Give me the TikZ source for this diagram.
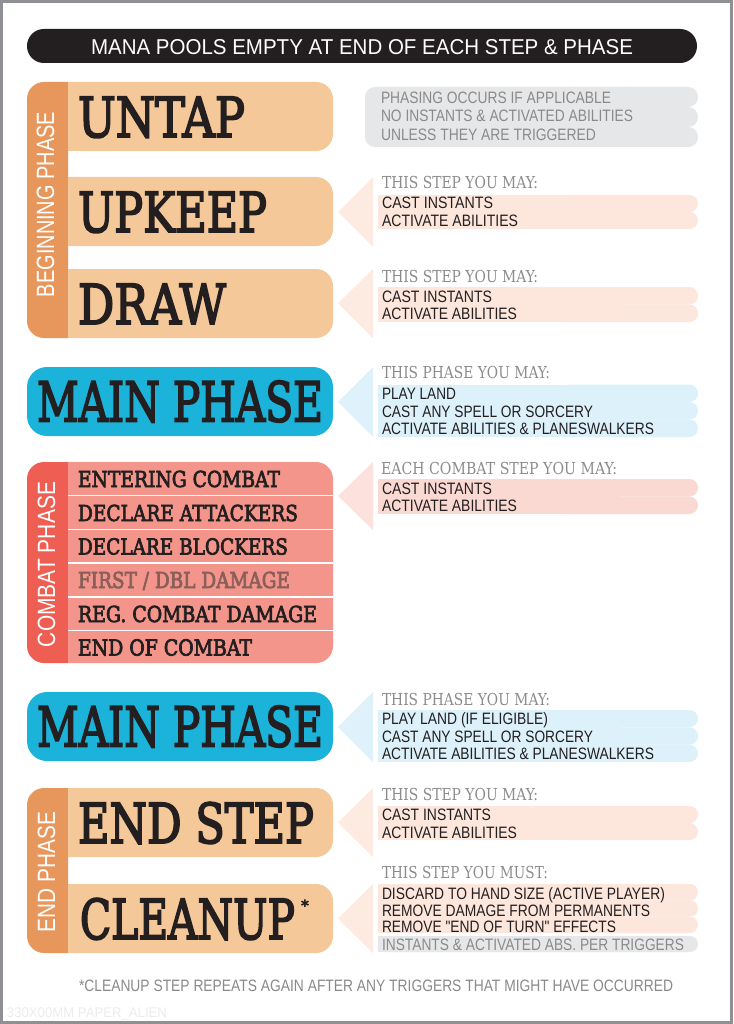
\documentclass[tikz,border=0pt]{standalone}
\usepackage{fontspec}
\usepackage{graphicx}
\setmainfont{Liberation Sans}
\newfontfamily\slabf{DejaVu Serif}
\newfontfamily\slabt[FakeBold=3.5]{DejaVu Serif}
\newfontfamily\sansf{Liberation Sans}
\newcommand{\fw}[3]{\resizebox{#1pt}{\height}{\fontsize{#2pt}{#2pt}\selectfont #3}}
\definecolor{ink}{HTML}{231F20}
\definecolor{taborange}{HTML}{E8975C}
\definecolor{boxorange}{HTML}{F4C898}
\definecolor{tabred}{HTML}{EE5E52}
\definecolor{boxred}{HTML}{F4958B}
\definecolor{mainblue}{HTML}{1BB3D9}
\definecolor{graypanel}{HTML}{E6E7E8}
\definecolor{peachpanel}{HTML}{FDE6DC}
\definecolor{peachtri}{HTML}{FDEBE2}
\definecolor{bluepanel}{HTML}{DDF1FB}
\definecolor{bluetri}{HTML}{DFF2FB}
\definecolor{combatpanel}{HTML}{FBD9D3}
\definecolor{combattri}{HTML}{FCE1DC}
\definecolor{notegray}{HTML}{8A8A8A}
\definecolor{hdrgray}{HTML}{8C8C8C}
\definecolor{mutedred}{HTML}{8A5E5A}
\definecolor{bordergray}{HTML}{8E9094}
\definecolor{wmgray}{HTML}{ECECEC}
\begin{document}
\begin{tikzpicture}[x=1pt,y=-1pt,
  txt/.style={inner sep=0pt, outer sep=0pt, anchor=base west},
  title/.style={txt, text=ink, font=\slabt},
  lineitem/.style={txt, text=ink, font=\sansf},
  grayitem/.style={txt, text=notegray, font=\sansf},
  hdr/.style={txt, text=hdrgray, font=\slabf},
  verttext/.style={txt, text=white, rotate=90, font=\sansf}]
\useasboundingbox (0,0) rectangle (733,1024);
\fill[white] (0,0) rectangle (733,1024);
\draw[line width=3pt, bordergray] (1.5,1.5) rectangle (731.5,1022.5);

% banner
\fill[ink, rounded corners=16.9] (27,29) rectangle (697,63);
\node[txt, text=white, font=\sansf] (banner) at (91,55) {\fw{542}{21.5}{MANA POOLS EMPTY AT END OF EACH STEP \& PHASE}};

% ---------- beginning phase ----------
\begin{scope}
  \clip (27,82) rectangle (68,338);
  \fill[taborange, rounded corners=17] (27,82) rectangle (110,338);
\end{scope}
\begin{scope}
  \clip (68,0) rectangle (333,1000);
  \fill[boxorange, rounded corners=17] (40,82) rectangle (333,151);
  \fill[boxorange, rounded corners=17] (40,177) rectangle (333,246);
  \fill[boxorange, rounded corners=17] (40,269) rectangle (333,338);
\end{scope}
\node[verttext] (begtab) at (54,297) {\fw{185}{25}{BEGINNING PHASE}};
\node[title] (untap) at (78,137) {\fw{167}{55}{UNTAP}};
\node[title] (upkeep) at (78,232) {\fw{189}{55}{UPKEEP}};
\node[title] (draw) at (78,324) {\fw{148}{55}{DRAW}};

% untap info
\fill[graypanel, rounded corners=10] (365,87) rectangle (640,147);
\foreach \a/\b in {87/107,107/127,127/147}
  \fill[graypanel, rounded corners=9.9] (560,\a) rectangle (698,\b);
\node[grayitem] (u1) at (381,103.5) {\fw{230}{16.5}{PHASING OCCURS IF APPLICABLE}};
\node[grayitem] (u2) at (381,122) {\fw{252}{16.5}{NO INSTANTS \& ACTIVATED ABILITIES}};
\node[grayitem] (u3) at (381,141) {\fw{215}{16.5}{UNLESS THEY ARE TRIGGERED}};

% upkeep info
\fill[peachtri] (373,177) -- (338,212) -- (373,247) -- cycle;
\fill[peachpanel] (378,195) rectangle (620,229);
\foreach \a/\b in {195/212,212/229}
  \fill[peachpanel, rounded corners=8.4] (560,\a) rectangle (698,\b);
\node[hdr] (k0) at (382,189) {\fw{156}{16.5}{THIS STEP YOU MAY:}};
\node[lineitem] (k1) at (382,209) {\fw{111}{16.5}{CAST INSTANTS}};
\node[lineitem] (k2) at (382,227) {\fw{136}{16.5}{ACTIVATE ABILITIES}};

% draw info
\fill[peachtri] (373,269) -- (338,303.5) -- (373,338) -- cycle;
\fill[peachpanel] (378,287) rectangle (620,322);
\foreach \a/\b in {287/304.5,304.5/322}
  \fill[peachpanel, rounded corners=8.6] (560,\a) rectangle (698,\b);
\node[hdr] (d0) at (382,282) {\fw{156}{16.5}{THIS STEP YOU MAY:}};
\node[lineitem] (d1) at (382,302) {\fw{110}{16.5}{CAST INSTANTS}};
\node[lineitem] (d2) at (382,319) {\fw{135}{16.5}{ACTIVATE ABILITIES}};

% ---------- main phase 1 ----------
\fill[mainblue, rounded corners=20] (27,367) rectangle (333,436);
\node[title] (main1) at (37,421.5) {\fw{286}{55}{MAIN PHASE}};
\fill[bluetri] (373,367) -- (338,402) -- (373,437) -- cycle;
\fill[bluepanel] (378,384.5) rectangle (620,437);
\foreach \a/\b in {384.5/402,402/419.5,419.5/437}
  \fill[bluepanel, rounded corners=8.6] (560,\a) rectangle (698,\b);
\node[hdr] (m0) at (382,378.5) {\fw{168}{16.5}{THIS PHASE YOU MAY:}};
\node[lineitem] (m1) at (382,399) {\fw{74}{16.5}{PLAY LAND}};
\node[lineitem] (m2) at (382,417) {\fw{211}{16.5}{CAST ANY SPELL OR SORCERY}};
\node[lineitem] (m3) at (382,434) {\fw{272}{16.5}{ACTIVATE ABILITIES \& PLANESWALKERS}};

% ---------- combat phase ----------
\begin{scope}
  \clip (27,462) rectangle (68,663);
  \fill[tabred, rounded corners=17] (27,462) rectangle (110,663);
\end{scope}
\begin{scope}
  \clip (68,0) rectangle (333,1000);
  \fill[boxred, rounded corners=17] (40,462) rectangle (333,663);
\end{scope}
\foreach \yy in {495.5,529.5,563,597,630.5}
  \draw[white, line width=1.6pt] (68,\yy) -- (333,\yy);
\node[verttext] (combattab) at (55,647) {\fw{165}{25}{COMBAT PHASE}};
\node[title] (c1) at (78,487) {\fw{202}{22}{ENTERING COMBAT}};
\node[title] (c2) at (78,521) {\fw{220}{22}{DECLARE ATTACKERS}};
\node[title] (c3) at (78,554.5) {\fw{210}{22}{DECLARE BLOCKERS}};
\node[title, text=mutedred] (c4) at (78,588) {\fw{212}{22}{FIRST / DBL DAMAGE}};
\node[title] (c5) at (78,622) {\fw{239}{22}{REG. COMBAT DAMAGE}};
\node[title] (c6) at (78,655.5) {\fw{174}{22}{END OF COMBAT}};

\fill[combattri] (373,462) -- (338,496) -- (373,530) -- cycle;
\fill[combatpanel] (378,479) rectangle (620,514);
\foreach \a/\b in {479/496.5,496.5/514}
  \fill[combatpanel, rounded corners=8.6] (560,\a) rectangle (698,\b);
\node[hdr] (cb0) at (381,474) {\fw{236}{16.5}{EACH COMBAT STEP YOU MAY:}};
\node[lineitem] (cb1) at (382,494) {\fw{110}{16.5}{CAST INSTANTS}};
\node[lineitem] (cb2) at (382,511) {\fw{135}{16.5}{ACTIVATE ABILITIES}};

% ---------- main phase 2 ----------
\fill[mainblue, rounded corners=20] (27,692) rectangle (333,761);
\node[title] (main2) at (37,746.5) {\fw{286}{55}{MAIN PHASE}};
\fill[bluetri] (373,692) -- (338,727) -- (373,762) -- cycle;
\fill[bluepanel] (378,710) rectangle (620,762);
\foreach \a/\b in {710/727.3,727.3/744.7,744.7/762}
  \fill[bluepanel, rounded corners=8.6] (560,\a) rectangle (698,\b);
\node[hdr] (n0) at (382,705) {\fw{168}{16.5}{THIS PHASE YOU MAY:}};
\node[lineitem] (n1) at (382,724.5) {\fw{166}{16.5}{PLAY LAND (IF ELIGIBLE)}};
\node[lineitem] (n2) at (382,742) {\fw{211}{16.5}{CAST ANY SPELL OR SORCERY}};
\node[lineitem] (n3) at (382,759) {\fw{272}{16.5}{ACTIVATE ABILITIES \& PLANESWALKERS}};

% ---------- end phase ----------
\begin{scope}
  \clip (27,788) rectangle (68,953);
  \fill[taborange, rounded corners=17] (27,788) rectangle (110,953);
\end{scope}
\begin{scope}
  \clip (68,0) rectangle (333,1000);
  \fill[boxorange, rounded corners=17] (40,788) rectangle (333,857);
  \fill[boxorange, rounded corners=17] (40,884) rectangle (333,953);
\end{scope}
\node[verttext] (endtab) at (55,932) {\fw{120}{25}{END PHASE}};
\node[title] (endstep) at (78,843) {\fw{236}{55}{END STEP}};
\node[title] (cleanup) at (80,939) {\fw{215}{55}{CLEANUP}};
\node[inner sep=0pt, anchor=north west, text=ink, font=\slabt\fontsize{15pt}{15pt}\selectfont] (ast) at (301,899.5) {*};

\fill[peachtri] (373,788) -- (338,822.5) -- (373,857) -- cycle;
\fill[peachpanel] (378,806) rectangle (620,840);
\foreach \a/\b in {806/823,823/840}
  \fill[peachpanel, rounded corners=8.4] (560,\a) rectangle (698,\b);
\node[hdr] (e0) at (382,800.5) {\fw{156}{16.5}{THIS STEP YOU MAY:}};
\node[lineitem] (e1) at (382,820.5) {\fw{109}{16.5}{CAST INSTANTS}};
\node[lineitem] (e2) at (382,838) {\fw{135}{16.5}{ACTIVATE ABILITIES}};

\fill[peachtri] (373,884) -- (338,918.5) -- (373,953) -- cycle;
\fill[peachpanel] (378,884) rectangle (620,933);
\foreach \a/\b in {884/900.3,900.3/916.7,916.7/933}
  \fill[peachpanel, rounded corners=8.1] (560,\a) rectangle (698,\b);
\fill[graypanel, rounded corners=7.9] (378,936) rectangle (698,952);
\fill[graypanel] (378,936) rectangle (600,952);
\node[hdr] (s0) at (382,878) {\fw{166}{16.5}{THIS STEP YOU MUST:}};
\node[lineitem] (s1) at (382,899) {\fw{283}{16.5}{DISCARD TO HAND SIZE (ACTIVE PLAYER)}};
\node[lineitem] (s2) at (382,916) {\fw{268}{16.5}{REMOVE DAMAGE FROM PERMANENTS}};
\node[lineitem] (s3) at (382,932.5) {\fw{234}{16.5}{REMOVE "END OF TURN" EFFECTS}};
\node[grayitem] (s4) at (382,950) {\fw{302}{16.5}{INSTANTS \& ACTIVATED ABS. PER TRIGGERS}};

% footnote and watermark
\node[grayitem] (foot) at (79,991) {\fw{594}{16.5}{*CLEANUP STEP REPEATS AGAIN AFTER ANY TRIGGERS THAT MIGHT HAVE OCCURRED}};
\node[txt, text=wmgray, font=\sansf] (wm) at (7,1017) {\fw{160}{14}{330X00MM PAPER\_ALIEN}};
\end{tikzpicture}
\end{document}
